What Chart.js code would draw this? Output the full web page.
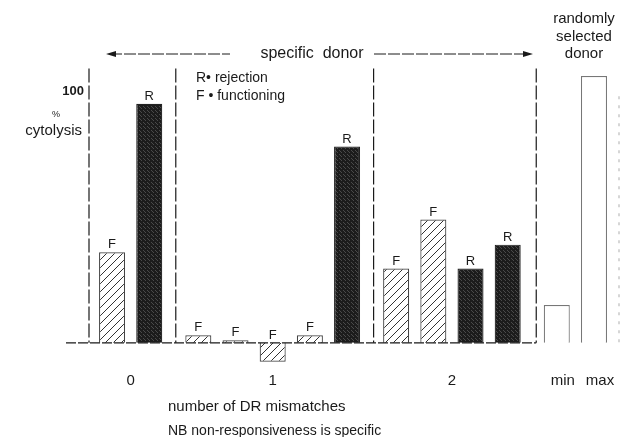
<!DOCTYPE html>
<html>
<head>
<meta charset="utf-8">
<script src="https://cdn.jsdelivr.net/npm/chart.js@4/dist/chart.umd.min.js"></script>
<style>
  html, body { margin: 0; padding: 0; background: #fff; }
  #wrap { width: 622px; height: 437px; position: relative; }
</style>
</head>
<body>
<div id="wrap"><canvas id="chart" width="622" height="437"></canvas></div>
<script>
// données
const barGroups = [0, 0, 1, 1, 1, 1, 1, 2, 2, 2, 2, 3, 3];
const barKinds = ['F', 'R', 'F', 'F', 'F', 'F', 'R', 'F', 'F', 'R', 'R', '', ''];
const cytolysis = [36, 95, 3, 1, -7.5, 3, 78, 29.5, 49, 29.5, 39, 15, 106];
const groupLabels = ['0', '1', '2'];
const randomLabels = ['min', 'max'];

const INK = '#1a1a1a';
const FONT = '"Liberation Sans", Arial, sans-serif';
const GROUP_GAP = 0.32;

// position des barres : index + écart entre groupes
const xs = barGroups.map((g, i) => i + g * GROUP_GAP);

function hatchPattern() {
    const c = document.createElement('canvas');
    c.width = 8; c.height = 8;
    const g = c.getContext('2d');
    g.fillStyle = '#fff';
    g.fillRect(0, 0, 8, 8);
    g.strokeStyle = '#333';
    g.lineWidth = 1;
    g.beginPath();
    g.moveTo(0, 8); g.lineTo(8, 0);
    g.moveTo(-4, 4); g.lineTo(4, -4);
    g.moveTo(4, 12); g.lineTo(12, 4);
    g.stroke();
    return g.createPattern(c, 'repeat');
}

function stipplePattern() {
    const c = document.createElement('canvas');
    c.width = 4; c.height = 4;
    const g = c.getContext('2d');
    g.fillStyle = '#1c1c1c';
    g.fillRect(0, 0, 4, 4);
    g.fillStyle = '#4a4a4a';
    g.fillRect(1, 0, 1, 1);
    g.fillRect(3, 2, 1, 1);
    g.fillRect(0, 3, 1, 1);
    return g.createPattern(c, 'repeat');
}

const hatch = hatchPattern();
const stipple = stipplePattern();

const fills = barKinds.map(k => k === 'F' ? hatch : (k === 'R' ? stipple : '#fff'));
const borders = barKinds.map(k => k === 'R' ? '#222' : (k === 'F' ? '#444' : '#777'));

const decorPlugin = {
    id: 'decor',
    afterDatasetsDraw(chart) {
        const ctx = chart.ctx;
        const area = chart.chartArea;
        const xScale = chart.scales.x;
        const yScale = chart.scales.y;
        const bars = chart.getDatasetMeta(0).data;
        const base = yScale.getPixelForValue(0);
        const top = yScale.getPixelForValue(109);

        ctx.save();
        ctx.strokeStyle = INK;
        ctx.lineWidth = 1.2;

        // ligne de base
        ctx.setLineDash([10, 2]);
        ctx.beginPath();
        ctx.moveTo(66, base);
        ctx.lineTo(xScale.getPixelForValue(11.3) + 4, base);
        ctx.stroke();

        // axe vertical et séparateurs
        const seps = [area.left];
        for (let i = 1; i < xs.length; i++) {
            if (barGroups[i] !== barGroups[i - 1]) {
                seps.push(xScale.getPixelForValue((xs[i] + xs[i - 1]) / 2) + (barGroups[i] === 3 ? 4 : 2));
            }
        }
        ctx.setLineDash([14, 3]);
        seps.forEach(x => {
            ctx.beginPath();
            ctx.moveTo(x, top);
            ctx.lineTo(x, base);
            ctx.stroke();
        });
        // ligne de droite, pâle
        ctx.strokeStyle = '#bbb';
        ctx.setLineDash([3, 6]);
        ctx.beginPath();
        ctx.moveTo(area.right - 1, yScale.getPixelForValue(98));
        ctx.lineTo(area.right - 1, base);
        ctx.stroke();

        // flèches "specific donor"
        ctx.strokeStyle = INK;
        ctx.lineWidth = 1;
        ctx.setLineDash([12, 2]);
        const ay = 54;
        ctx.beginPath();
        ctx.moveTo(110, ay); ctx.lineTo(230, ay);
        ctx.moveTo(374, ay); ctx.lineTo(528, ay);
        ctx.stroke();
        ctx.setLineDash([]);
        ctx.fillStyle = INK;
        ctx.beginPath();
        ctx.moveTo(106, ay); ctx.lineTo(116, ay - 3); ctx.lineTo(116, ay + 3); ctx.closePath();
        ctx.moveTo(533, ay); ctx.lineTo(523, ay - 3); ctx.lineTo(523, ay + 3); ctx.closePath();
        ctx.fill();

        // textes
        ctx.fillStyle = INK;
        ctx.textBaseline = 'middle';
        ctx.textAlign = 'center';
        ctx.font = '16px ' + FONT;
        ctx.fillText('specific  donor', 312, ay);
        ctx.font = '15px ' + FONT;
        ['randomly', 'selected', 'donor'].forEach((t, i) => ctx.fillText(t, 584, 19 + i * 17.5));

        ctx.textAlign = 'left';
        ctx.font = '14px ' + FONT;
        ctx.fillText('R\u2022 rejection', 196, 78);
        ctx.fillText('F \u2022 functioning', 196, 96);

        // axe Y
        ctx.textAlign = 'right';
        ctx.font = 'bold 13px ' + FONT;
        ctx.fillText('100', 84, yScale.getPixelForValue(100));
        ctx.font = '9px ' + FONT;
        ctx.textAlign = 'center';
        ctx.fillText('%', 56, 115);
        ctx.font = '15px ' + FONT;
        ctx.textAlign = 'right';
        ctx.fillText('cytolysis', 82, 131);

        // lettres au-dessus des barres
        ctx.textAlign = 'center';
        ctx.font = '13px ' + FONT;
        ctx.textBaseline = 'bottom';
        bars.forEach((bar, i) => {
            if (!barKinds[i]) return;
            const y = Math.min(bar.y, base);
            ctx.fillText(barKinds[i], bar.x, y - 1);
        });

        // étiquettes des groupes
        ctx.textBaseline = 'middle';
        ctx.font = '15px ' + FONT;
        groupLabels.forEach((lab, g) => {
            const idx = barGroups.map((v, i) => v === g ? i : -1).filter(i => i >= 0);
            const cx = (bars[idx[0]].x + bars[idx[idx.length - 1]].x) / 2;
            ctx.fillText(lab, cx, 381);
        });
        const rnd = barGroups.map((v, i) => v === 3 ? i : -1).filter(i => i >= 0);
        rnd.forEach((i, k) => ctx.fillText(randomLabels[k], bars[i].x + 6, 381));

        ctx.textAlign = 'left';
        ctx.font = '15px ' + FONT;
        ctx.fillText('number of DR mismatches', 168, 407);
        ctx.font = '14px ' + FONT;
        ctx.fillText('NB non-responsiveness is specific', 168, 431);
        ctx.restore();
    }
};

new Chart(document.getElementById('chart'), {
    type: 'bar',
    data: {
        datasets: [{
            data: cytolysis.map((v, i) => ({ x: xs[i], y: v })),
            backgroundColor: fills,
            borderColor: borders,
            borderWidth: 1.2,
            categoryPercentage: 1,
            barPercentage: 0.7
        }]
    },
    options: {
        responsive: false,
        animation: false,
        layout: { padding: { left: 89, right: 2, top: 66, bottom: 64 } },
        plugins: { legend: { display: false }, tooltip: { enabled: false } },
        scales: {
            x: { type: 'linear', display: false, offset: false, min: -0.62, max: 13.66 },
            y: { display: false, min: -12, max: 110 }
        }
    },
    plugins: [decorPlugin]
});
</script>
</body>
</html>
